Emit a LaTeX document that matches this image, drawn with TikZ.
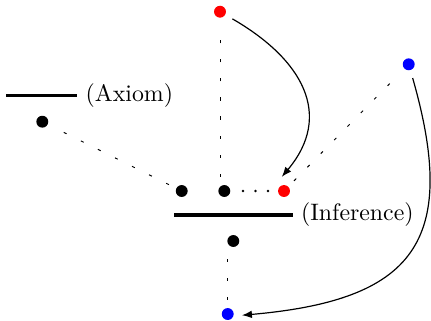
\documentclass[tikz,border=0pt]{standalone}
\usetikzlibrary{arrows.meta}
\tikzset{
  dot/.style={circle, fill, inner sep=0pt, minimum size=5pt, outer sep=3.5pt},
  link/.style={line width=0.4pt, dash pattern=on 1.3pt off 6.7pt},
  dots/.style={line width=1.2pt, line cap=round, dash pattern=on 0pt off 5.25pt},
  jump/.style={-{Latex[length=4.2pt,width=3.2pt]}, line width=0.5pt}
}
\begin{document}
\begin{tikzpicture}[x=4.2pt, y=4.2pt]
  \useasboundingbox (0,0) rectangle (43.1,32);

  % Points
  \node[dot, red]  (rtop)   at (22.0,30.83) {};
  \node[dot, blue] (bright) at (40.87,25.57) {};
  \node[dot]       (ax)     at (4.23,19.83) {};
  \node[dot]       (p1)     at (18.17,12.9) {};
  \node[dot]       (p2)     at (22.43,12.9) {};
  \node[dot, red]  (rb)     at (28.4,12.9) {};
  \node[dot]       (q)      at (23.33,7.9) {};
  \node[dot, blue] (bb)     at (22.77,0.6) {};

  % Rule lines
  \coordinate (axL) at (0.6,22.45);
  \coordinate (axR) at (7.73,22.45);
  \draw[line width=1pt] (axL) -- (axR);
  \node[anchor=west] (axlbl) at (axR) {(Axiom)};

  \coordinate (infL) at (17.4,10.5);
  \coordinate (infR) at (29.27,10.5);
  \draw[line width=1.4pt] (infL) -- (infR);
  \node[anchor=west] (inflbl) at (infR) {(Inference)};

  % Dashed links
  \draw[link] (p1) -- (ax);
  \draw[link, shorten <=6pt] (rtop |- p2) -- (rtop);
  \draw[link] (rb) -- (bright);
  \draw[link, shorten >=6pt] (bb) -- (bb |- q);
  \draw[dots, shorten <=1.85pt, shorten >=0.4pt] (p2) -- (rb);

  % Arrows
  \draw[jump, looseness=1.25] (rtop) to[out=-30, in=50] (rb.99);
  \draw[jump, looseness=1.5] (bright) to[out=-74, in=5] (bb.-5);
\end{tikzpicture}
\end{document}
